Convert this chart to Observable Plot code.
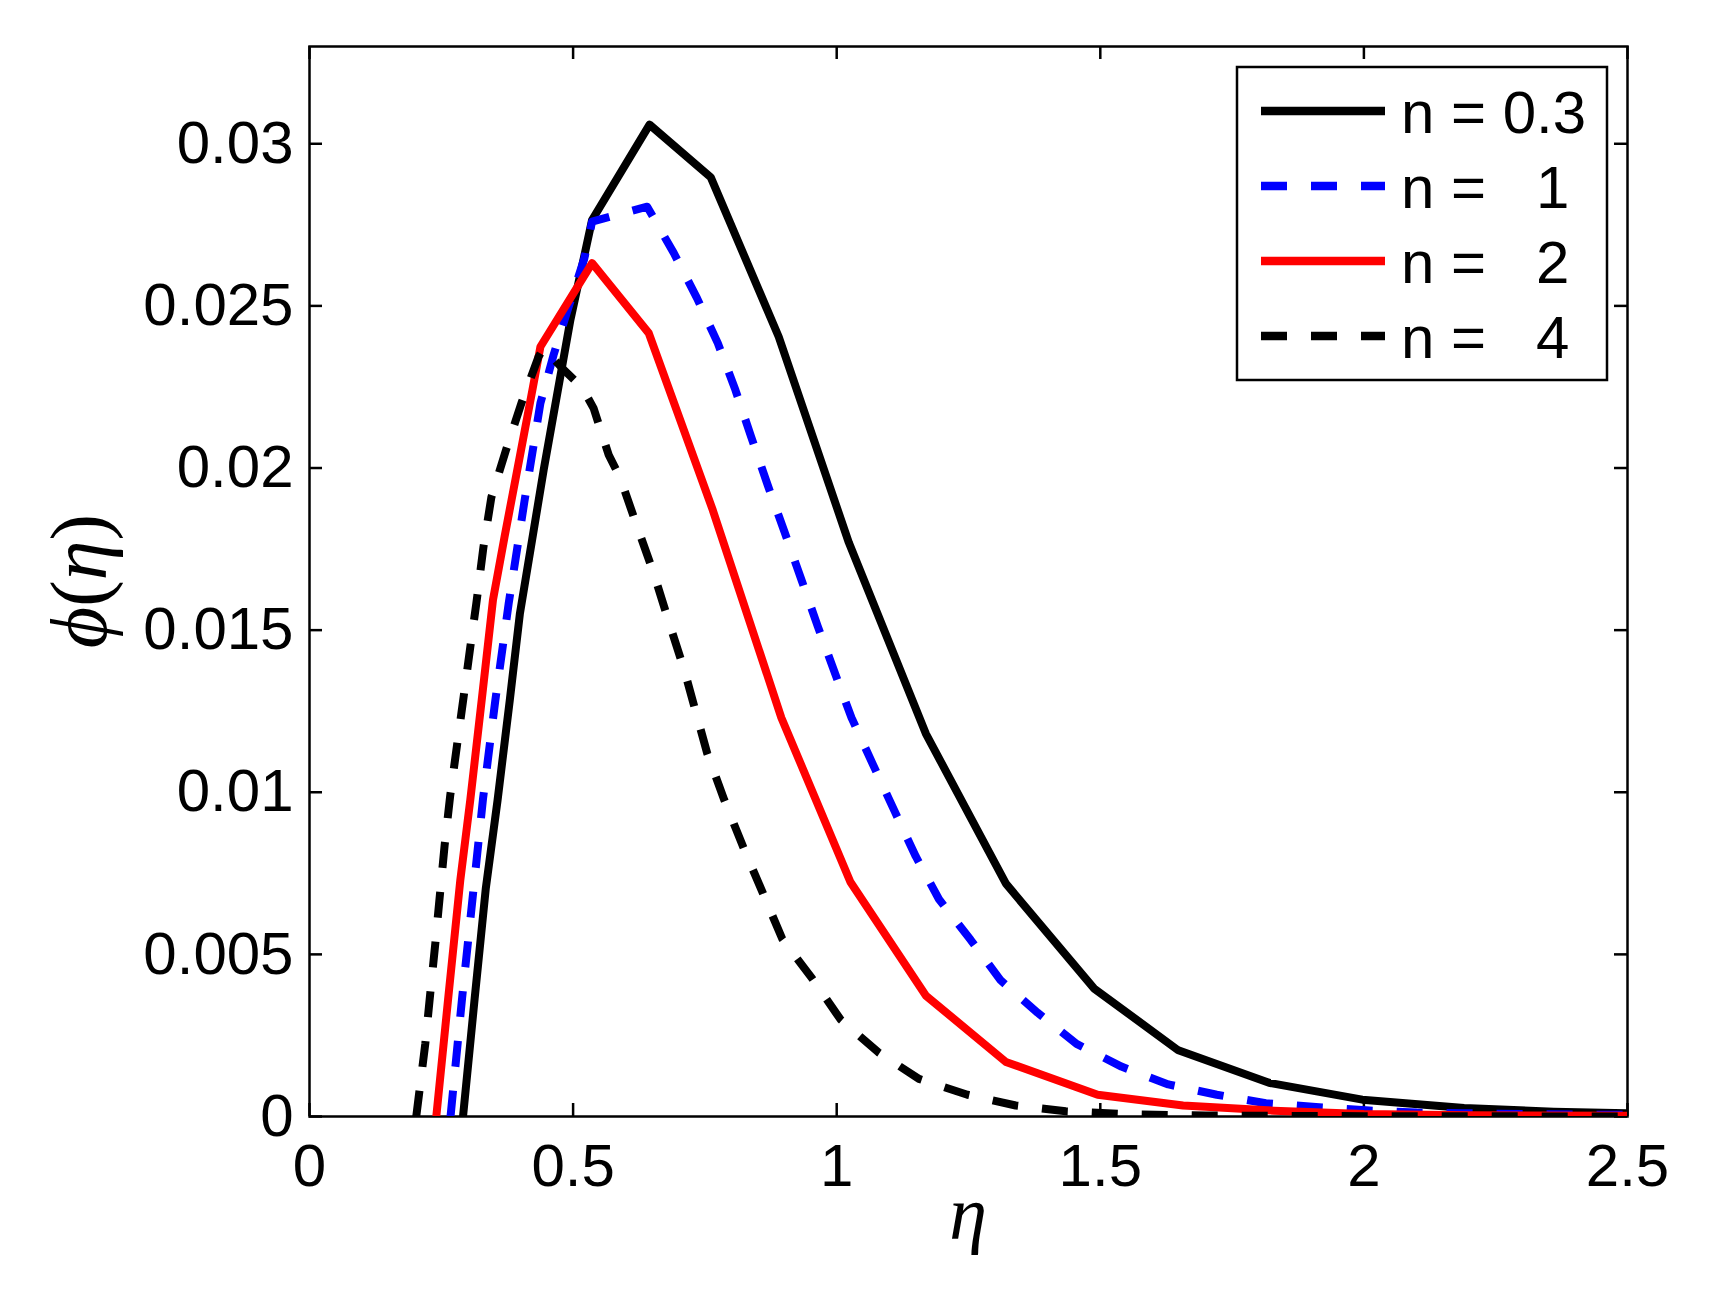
<!DOCTYPE html>
<html>
<head>
<meta charset="utf-8">
<script src="https://cdn.jsdelivr.net/npm/d3@7"></script>
<script src="https://cdn.jsdelivr.net/npm/@observablehq/plot@0.6"></script>
<style>
  html, body { margin: 0; padding: 0; background: #ffffff; overflow: hidden; }
  svg text { white-space: pre; }
</style>
</head>
<body>
<div id="chart"></div>
<script>
// ---- data ----
const seriesNames = ["n = 0.3", "n =   1", "n =   2", "n =   4"];

const etaN03 = [0.2912, 0.3133, 0.3345, 0.3567, 0.3799, 0.3990, 0.4442, 0.4949, 0.536, 0.645, 0.761, 0.890, 1.023, 1.169, 1.321, 1.488, 1.648, 1.820, 1.997, 2.19, 2.36, 2.5];
const phiN03 = [0, 0.00364, 0.00705, 0.00975, 0.01284, 0.01550, 0.01994, 0.02457, 0.02765, 0.03059, 0.02897, 0.02405, 0.0177, 0.01181, 0.00718, 0.00395, 0.00204, 0.00104, 0.00052, 0.00026, 0.00015, 0.0001];

const etaN1 = [0.2675, 0.2893, 0.3102, 0.3292, 0.3525, 0.3778, 0.4076, 0.438, 0.463, 0.4917, 0.5214, 0.536, 0.6405, 0.691, 0.735, 0.7745, 0.808, 0.838, 0.869, 0.901, 0.933, 0.964, 0.997, 1.028, 1.0695, 1.110, 1.150, 1.194, 1.254, 1.311, 1.381, 1.455, 1.54, 1.629, 1.721, 1.814, 1.909, 2.004, 2.10, 2.19, 2.35, 2.5];
const phiN1 = [0, 0.00363, 0.00687, 0.00981, 0.01284, 0.01582, 0.01896, 0.0220, 0.02349, 0.02498, 0.02647, 0.0276, 0.02806, 0.02663, 0.02524, 0.02385, 0.0224, 0.02095, 0.01948, 0.01803, 0.01656, 0.01512, 0.01366, 0.0123, 0.01083, 0.00941, 0.00802, 0.0067, 0.00545, 0.0042, 0.0032, 0.00224, 0.00154, 0.00099, 0.00067, 0.00041, 0.00029, 0.00019, 0.00012, 0.0001, 0.00007, 0.00005];

const etaN2 = [0.2405, 0.2633, 0.286, 0.3049, 0.3266, 0.348, 0.370, 0.400, 0.424, 0.438, 0.536, 0.6435, 0.765, 0.895, 1.026, 1.169, 1.321, 1.495, 1.657, 1.829, 2.0, 2.2, 2.5];
const phiN2 = [0, 0.00368, 0.00728, 0.00975, 0.01284, 0.01593, 0.01788, 0.02045, 0.02251, 0.02374, 0.02632, 0.02416, 0.0187, 0.0123, 0.00723, 0.00373, 0.00168, 0.00067, 0.00034, 0.00018, 0.00008, 0.00004, 0.00002];

const etaN4 = [0.2025, 0.2196, 0.229, 0.2386, 0.248, 0.2563, 0.267, 0.2798, 0.2923, 0.305, 0.3164, 0.330, 0.345, 0.3728, 0.403, 0.4347, 0.444, 0.481, 0.517, 0.539, 0.5676, 0.5898, 0.6215, 0.653, 0.6815, 0.710, 0.7354, 0.7544, 0.787, 0.8227, 0.86, 0.8967, 0.9537, 1.0074, 1.079, 1.156, 1.248, 1.3396, 1.4345, 1.55, 1.7, 2.0, 2.5];
const phiN4 = [0, 0.00224, 0.00379, 0.00533, 0.00695, 0.00836, 0.00991, 0.01145, 0.01294, 0.01448, 0.01582, 0.01757, 0.0191, 0.02056, 0.02205, 0.02344, 0.0237, 0.02305, 0.02249, 0.02184, 0.0204, 0.01968, 0.01819, 0.01675, 0.01526, 0.01382, 0.01232, 0.0112, 0.00975, 0.00831, 0.00689, 0.00548, 0.00425, 0.00299, 0.00198, 0.00116, 0.00067, 0.00034, 0.00016, 0.00007, 0.00003, 0.00001, 0];

const xTicks = [0, 0.5, 1, 1.5, 2, 2.5];
const yTicks = [0, 0.005, 0.01, 0.015, 0.02, 0.025, 0.03];
const xDomain = [0, 2.5];
const yDomain = [0, 0.033];

// ---- styling (kept apart from data) ----
const colors = ["#000000", "#0000ff", "#ff0000", "#000000"];
const dashes = [null, "26,24", null, "26,24"];
const sansFont = "'Liberation Sans', Arial, Helvetica, sans-serif";
const serifFont = "'Liberation Serif', 'DejaVu Serif', 'Times New Roman', serif";

const W = 1713, H = 1295;
const mL = 309, mR = 86, mT = 46, mB = 179;
const frameW = W - mL - mR, frameH = H - mT - mB;
const tickLen = 13;
const axisW = 2.5;
const curveW = 8;

const seriesX = [etaN03, etaN1, etaN2, etaN4];
const seriesY = [phiN03, phiN1, phiN2, phiN4];
const tables = seriesX.map((xs, s) => xs.map((x, i) => ({eta: x, phi: seriesY[s][i]})));

function legendMark(index, scales, values, dims) {
  const g = d3.create("svg:g");
  const right = dims.width - dims.marginRight - 20;
  const top = dims.marginTop + 21;
  const bw = 370, bh = 313;
  const left = right - bw;
  g.append("rect")
    .attr("x", left).attr("y", top).attr("width", bw).attr("height", bh)
    .attr("fill", "#ffffff").attr("stroke", "#000000").attr("stroke-width", axisW);
  seriesNames.forEach((name, i) => {
    const yy = top + 44 + i * 75;
    const ln = g.append("line")
      .attr("x1", left + 24).attr("x2", left + 148)
      .attr("y1", yy).attr("y2", yy)
      .attr("stroke", colors[i]).attr("stroke-width", 8.5);
    if (dashes[i]) ln.attr("stroke-dasharray", dashes[i]);
    g.append("text")
      .attr("x", left + 164).attr("y", yy + 22)
      .attr("text-anchor", "start")
      .attr("font-family", sansFont).attr("font-size", 60)
      .attr("fill", "#000000")
      .text(name.replace(/ /g, "\u00a0"));
  });
  return g.node();
}

function labelMark(index, scales, values, dims) {
  const g = d3.create("svg:g").attr("font-family", serifFont).attr("fill", "#000000");
  const cx = dims.marginLeft + (dims.width - dims.marginLeft - dims.marginRight) / 2;
  g.append("text")
    .attr("x", cx).attr("y", dims.height - dims.marginBottom + 123)
    .attr("text-anchor", "middle").attr("font-size", 76).attr("font-style", "italic")
    .text("η");
  const cy = dims.marginTop + (dims.height - dims.marginTop - dims.marginBottom) / 2;
  const t = g.append("text")
    .attr("transform", `translate(${dims.marginLeft - 203},${cy}) rotate(-90)`)
    .attr("text-anchor", "middle").attr("font-size", 80);
  t.append("tspan").attr("font-style", "italic").text("ϕ");
  t.append("tspan").text("(");
  t.append("tspan").attr("font-style", "italic").text("η");
  t.append("tspan").text(")");
  return g.node();
}

const lineMarks = tables.map((rows, i) => Plot.line(rows, {
  x: "eta", y: "phi",
  stroke: colors[i], strokeWidth: curveW,
  strokeDasharray: dashes[i] || undefined,
  strokeLinejoin: "round", strokeLinecap: "butt",
  clip: true
}));

const chart = Plot.plot({
  width: W, height: H,
  marginLeft: mL, marginRight: mR, marginTop: mT, marginBottom: mB,
  style: {fontFamily: sansFont, fontSize: "60px", background: "#ffffff", color: "#000000"},
  x: {domain: xDomain},
  y: {domain: yDomain},
  marks: [
    Plot.axisX({ticks: xTicks, tickFormat: d => String(d), tickSize: 0, tickPadding: 27, fontSize: 60, label: null}),
    Plot.axisY({ticks: yTicks, tickFormat: d => String(d), tickSize: 0, tickPadding: 16, fontSize: 60, label: null}),
    // inward ticks on all four sides
    Plot.tickX(xTicks, {x: d => d, stroke: "#000", strokeWidth: axisW, insetTop: frameH - tickLen}),
    Plot.tickX(xTicks, {x: d => d, stroke: "#000", strokeWidth: axisW, insetBottom: frameH - tickLen}),
    Plot.tickY(yTicks, {y: d => d, stroke: "#000", strokeWidth: axisW, insetRight: frameW - tickLen}),
    Plot.tickY(yTicks, {y: d => d, stroke: "#000", strokeWidth: axisW, insetLeft: frameW - tickLen}),
    Plot.frame({stroke: "#000", strokeWidth: axisW}),
    ...lineMarks,
    legendMark,
    labelMark
  ]
});

document.getElementById("chart").appendChild(chart);
</script>
</body>
</html>
